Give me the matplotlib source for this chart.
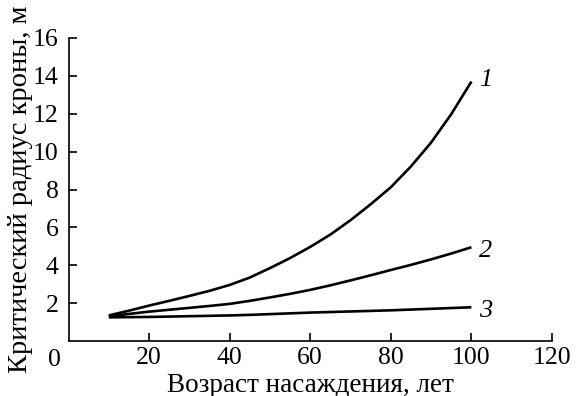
import matplotlib
matplotlib.use("Agg")
import matplotlib.pyplot as plt

ages = [10, 15, 20, 25, 30, 35, 40, 45, 50, 55, 60, 65, 70, 75, 80, 85, 90, 95, 100]
curve1 = [1.35, 1.60, 1.87, 2.12, 2.38, 2.65, 2.96, 3.35, 3.85, 4.38, 4.97,
          5.62, 6.38, 7.22, 8.12, 9.22, 10.48, 11.98, 13.7]
curve2 = [1.30, 1.43, 1.55, 1.65, 1.75, 1.85, 1.96, 2.12, 2.30, 2.49, 2.70,
          2.94, 3.20, 3.47, 3.75, 4.02, 4.31, 4.62, 4.95]
curve3 = [1.25, 1.26, 1.27, 1.29, 1.31, 1.33, 1.35, 1.38, 1.42, 1.46, 1.50,
          1.53, 1.56, 1.59, 1.62, 1.66, 1.70, 1.74, 1.78]
curve_labels = ["1", "2", "3"]
xticks = [20, 40, 60, 80, 100, 120]
yticks = [2, 4, 6, 8, 10, 12, 14, 16]

plt.rcParams['font.family'] = ['Liberation Serif', 'DejaVu Serif']

W, H = 585, 396
fig = plt.figure(figsize=(W / 100, H / 100), dpi=100)
left, right, top, bottom = 68.5, 552, 38, 341
ax = fig.add_axes([left / W, 1 - bottom / H, (right - left) / W, (bottom - top) / H])

label_dy = [0.1, -0.2, -0.2]
for ys, lab, dy in zip([curve1, curve2, curve3], curve_labels, label_dy):
    ax.plot(ages, ys, color='black', lw=1.9, solid_capstyle='butt',
            solid_joinstyle='round')
    ax.text(ages[-1] + 2.0, ys[-1] + dy, lab, fontsize=19, style='italic',
            ha='left', va='center')

ax.set_xlim(0, 120)
ax.set_ylim(0, 16)
ax.set_xticks(xticks)
ax.set_yticks(yticks)
for s in ['top', 'right']:
    ax.spines[s].set_visible(False)
for s in ['left', 'bottom']:
    ax.spines[s].set_linewidth(1.2)
ax.tick_params(direction='in', length=6, width=1.2, labelsize=18.5)
ax.tick_params(axis='y', pad=7)
ax.tick_params(axis='x', pad=4)

ax.text(-3.5, -0.4, "0", fontsize=18.5, ha='center', va='top',
        transform=ax.transData, clip_on=False)

ax.set_xlabel("Возраст насаждения, лет", fontsize=19.5)
ax.xaxis.set_label_coords(0.5, -0.104)
ax.set_ylabel("Критический радиус кроны, м", fontsize=20.5, labelpad=0)

fig.savefig("out.png", dpi=100)
